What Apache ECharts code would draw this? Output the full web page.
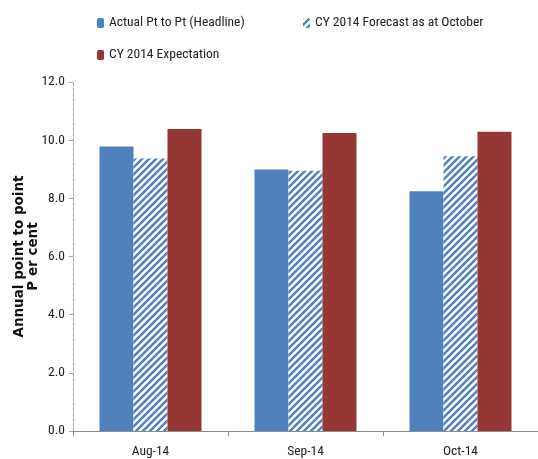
<!DOCTYPE html>
<html>
<head>
<meta charset="utf-8">
<script src="https://cdn.jsdelivr.net/npm/echarts@6/dist/echarts.min.js"></script>
<style>html,body{margin:0;padding:0;background:#fff;}#c{width:538px;height:459px;}</style>
</head>
<body>
<div id="c"></div>
<script>
var categories = ['Aug-14', 'Sep-14', 'Oct-14'];
var actualValues = [9.78, 8.99, 8.24];
var forecastValues = [9.37, 8.95, 9.45];
var expectationValues = [10.38, 10.25, 10.29];
var seriesNames = ['Actual Pt to Pt (Headline)', 'CY 2014 Forecast as at October', 'CY 2014 Expectation'];
var yTicks = [0, 2, 4, 6, 8, 10, 12];

var BLUE = '#4F81BD', RED = '#953735';
var FONT = "'Roboto Condensed', 'Liberation Sans', sans-serif";

function makeHatch() {
  var s = 7;
  var cv = document.createElement('canvas');
  cv.width = s; cv.height = s;
  var ctx = cv.getContext('2d');
  ctx.fillStyle = '#fff';
  ctx.fillRect(0, 0, s, s);
  ctx.strokeStyle = BLUE;
  ctx.lineWidth = 2.4;
  ctx.beginPath();
  ctx.moveTo(-1, s + 1); ctx.lineTo(s + 1, -1);
  ctx.moveTo(-2, 2); ctx.lineTo(2, -2);
  ctx.moveTo(s - 2, s + 2); ctx.lineTo(s + 2, s - 2);
  ctx.stroke();
  return {image: cv, repeat: 'repeat'};
}
var hatch = makeHatch();

var chart = echarts.init(document.getElementById('c'), null, {renderer: 'canvas'});
var legendText = {fontFamily: FONT, fontSize: 13.5, color: '#222'};
function legendAt(name, left, top) {
  return {data: [name], left: left, top: top, itemWidth: 7, itemHeight: 10, itemGap: 0,
          textStyle: legendText, padding: 0, selectedMode: false};
}
chart.setOption({
  animation: false,
  legend: [
    legendAt(seriesNames[0], 97, 16),
    legendAt(seriesNames[1], 303, 16),
    legendAt(seriesNames[2], 97, 48)
  ],
  grid: {left: 73, right: 0, top: 82, bottom: 28, containLabel: false, outerBoundsMode: 'none'},
  xAxis: {
    type: 'category',
    data: categories,
    axisLine: {lineStyle: {color: '#8c8c8c', width: 1}},
    axisTick: {show: true, length: 5, lineStyle: {color: '#8c8c8c'}},
    axisLabel: {fontFamily: FONT, fontSize: 13.5, color: '#222', margin: 14}
  },
  yAxis: {
    type: 'value',
    min: yTicks[0], max: yTicks[yTicks.length - 1], interval: 2,
    name: 'Annual point to point\nP er cent',
    nameLocation: 'middle',
    nameRotate: 90,
    nameGap: 33,
    nameMoveOverlap: false,
    nameTextStyle: {fontFamily: "'DejaVu Sans', sans-serif", fontWeight: 'bold', fontSize: 13.5, color: '#111', lineHeight: 14},
    axisLine: {show: true, lineStyle: {color: '#a6a6a6', type: [3, 2], width: 1}},
    axisTick: {show: true, inside: false, length: 4, lineStyle: {color: '#a6a6a6'}},
    splitLine: {show: false},
    axisLabel: {fontFamily: FONT, fontSize: 13.5, color: '#222', margin: 8, formatter: function (v) { return v.toFixed(1); }}
  },
  series: [
    {name: seriesNames[0], type: 'bar', data: actualValues, barWidth: 34, barGap: '0%', itemStyle: {color: BLUE}},
    {name: seriesNames[1], type: 'bar', data: forecastValues, barWidth: 34, itemStyle: {color: hatch}},
    {name: seriesNames[2], type: 'bar', data: expectationValues, barWidth: 34, itemStyle: {color: RED}}
  ]
});
</script>
</body>
</html>
